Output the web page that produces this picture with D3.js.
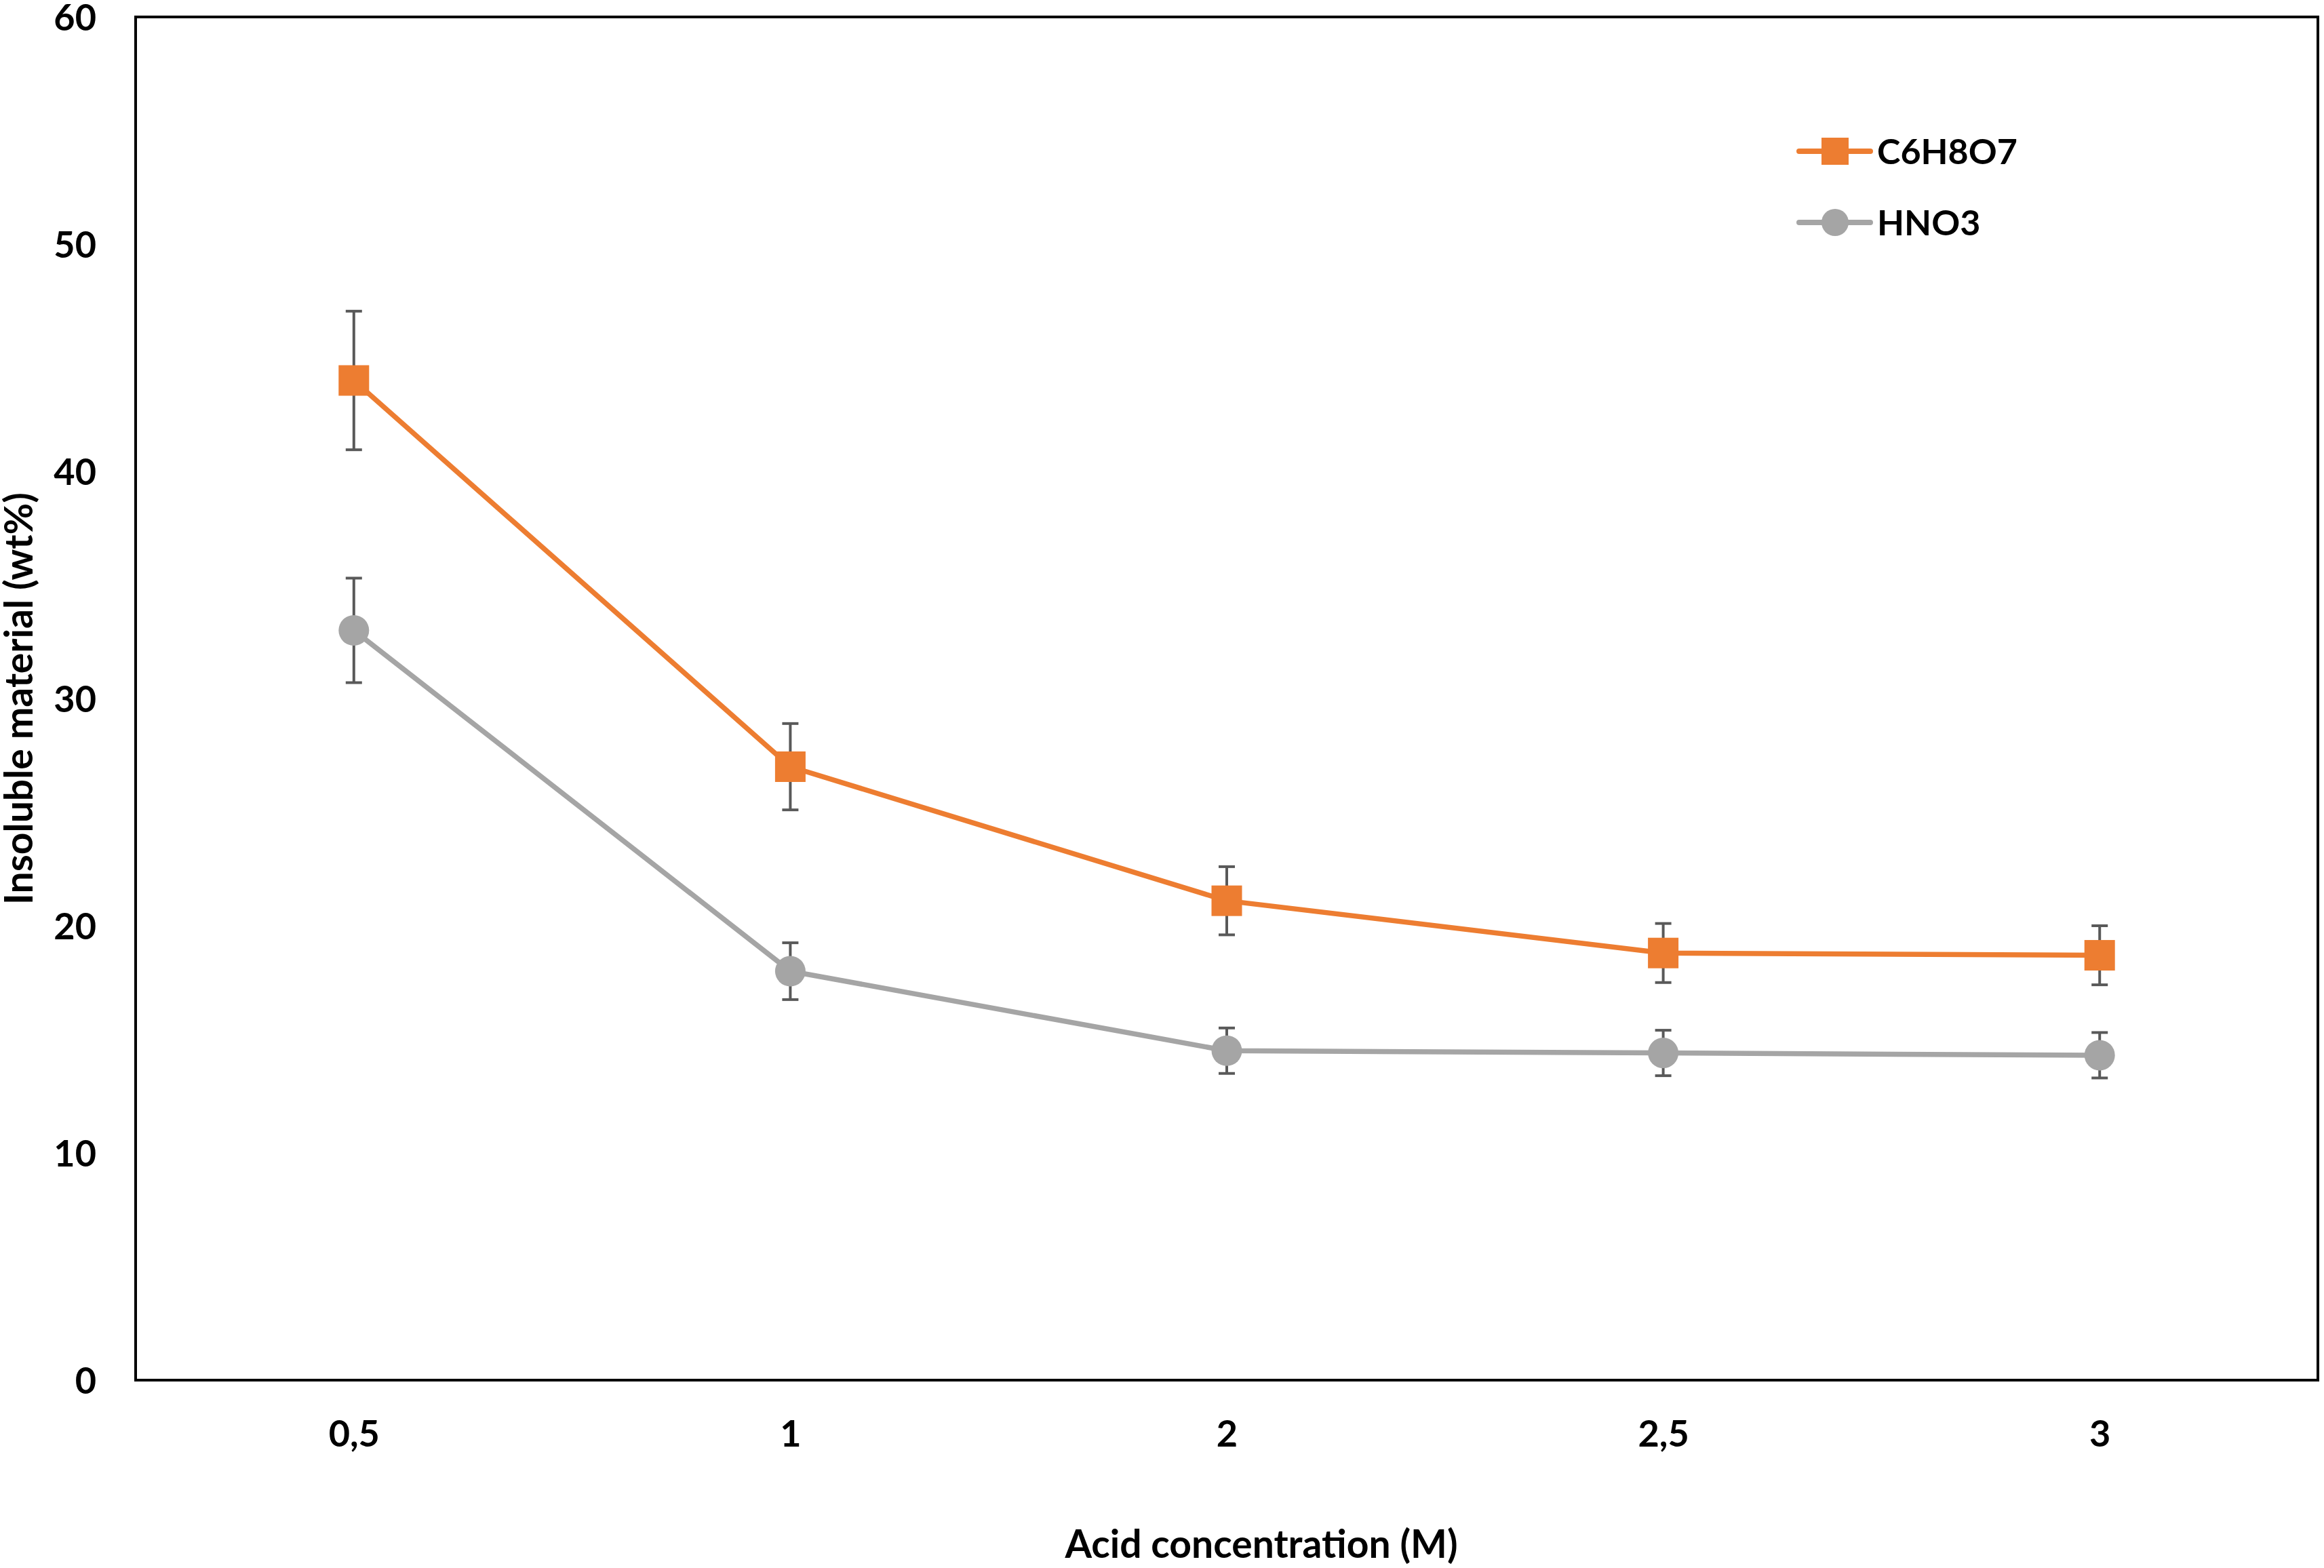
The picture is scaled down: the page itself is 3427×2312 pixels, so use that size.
<!DOCTYPE html>
<html lang="en">

  <head>
    <meta charset="UTF-8">
    <title>Insoluble material</title>
    <style>
      body {
        margin: 0;
        background-color: white;
      }

      text {
        font-family: Lato, "Open Sans", sans-serif;
        font-weight: bold;
        fill: black;
      }
    </style>
  </head>

  <body>
    <div id="my-div"></div>
    <script src="https://d3js.org/d3.v7.min.js"></script>
    <script>

      // data
      var categories = ["0,5", "1", "2", "2,5", "3"];
      var c6h8o7 = [44.0, 27.0, 21.1, 18.8, 18.7];
      var c6h8o7Err = [3.05, 1.9, 1.5, 1.3, 1.3];
      var hno3 = [33.0, 18.0, 14.5, 14.4, 14.3];
      var hno3Err = [2.3, 1.25, 1.0, 1.0, 1.0];
      var yTicks = [0, 10, 20, 30, 40, 50, 60];

      var series = [
        { name: "C6H8O7", values: c6h8o7, err: c6h8o7Err, color: "#ED7D31", shape: "square" },
        { name: "HNO3", values: hno3, err: hno3Err, color: "#A5A5A5", shape: "circle" }
      ];

      // set the dimensions and margins of the graph
      var margin = { top: 25, right: 9, bottom: 277, left: 200 },
        width = 3427 - margin.left - margin.right,
        height = 2312 - margin.top - margin.bottom;

      var svg = d3.select("#my-div")
        .append("svg")
        .attr("width", 3427)
        .attr("height", 2312)
        .append("g")
        .attr("transform", "translate(" + margin.left + "," + margin.top + ")");

      // scales
      var x = d3.scalePoint()
        .domain(categories)
        .range([0, width])
        .padding(0.5);

      var y = d3.scaleLinear()
        .domain([0, 60])
        .range([height, 0]);

      // axes
      var yAxis = svg.append("g")
        .call(d3.axisLeft(y).tickValues(yTicks).tickSize(0).tickPadding(58));
      yAxis.select(".domain").remove();
      yAxis.selectAll("text")
        .style("font-size", "54px")
        .attr("dy", "0.36em");

      var xAxis = svg.append("g")
        .attr("transform", "translate(0," + height + ")")
        .call(d3.axisBottom(x).tickSize(0).tickPadding(60));
      xAxis.select(".domain").remove();
      xAxis.selectAll("text")
        .style("font-size", "54px");

      // plot frame
      svg.append("rect")
        .attr("x", 0)
        .attr("y", 0)
        .attr("width", width)
        .attr("height", height)
        .attr("fill", "none")
        .attr("stroke", "black")
        .attr("stroke-width", 4);

      // axis titles
      svg.append("text")
        .attr("x", 1660)
        .attr("y", 2297 - margin.top)
        .style("text-anchor", "middle")
        .style("font-size", "57px")
        .text("Acid concentration (M)");

      svg.append("text")
        .attr("transform", "translate(" + (48 - margin.left) + "," + (1030 - margin.top) + ")rotate(-90)")
        .style("text-anchor", "middle")
        .style("font-size", "57px")
        .text("Insoluble material (wt%)");

      var line = d3.line()
        .x(function (d, i) { return x(categories[i]); })
        .y(function (d) { return y(d); });

      series.forEach(function (s) {
        var g = svg.append("g");

        // error bars
        var eb = g.selectAll(".err")
          .data(s.values)
          .enter()
          .append("g")
          .attr("stroke", "#595959")
          .attr("stroke-width", 4);
        eb.append("line")
          .attr("x1", function (d, i) { return x(categories[i]); })
          .attr("x2", function (d, i) { return x(categories[i]); })
          .attr("y1", function (d, i) { return y(d + s.err[i]); })
          .attr("y2", function (d, i) { return y(d - s.err[i]); });
        eb.append("line")
          .attr("x1", function (d, i) { return x(categories[i]) - 12; })
          .attr("x2", function (d, i) { return x(categories[i]) + 12; })
          .attr("y1", function (d, i) { return y(d + s.err[i]); })
          .attr("y2", function (d, i) { return y(d + s.err[i]); });
        eb.append("line")
          .attr("x1", function (d, i) { return x(categories[i]) - 12; })
          .attr("x2", function (d, i) { return x(categories[i]) + 12; })
          .attr("y1", function (d, i) { return y(d - s.err[i]); })
          .attr("y2", function (d, i) { return y(d - s.err[i]); });

        // line
        g.append("path")
          .datum(s.values)
          .attr("fill", "none")
          .attr("stroke", s.color)
          .attr("stroke-width", 7.5)
          .attr("stroke-linejoin", "round")
          .attr("d", line);

        // markers
        if (s.shape == "square") {
          g.selectAll(".mark")
            .data(s.values)
            .enter()
            .append("rect")
            .attr("x", function (d, i) { return x(categories[i]) - 22.5; })
            .attr("y", function (d) { return y(d) - 22.5; })
            .attr("width", 45)
            .attr("height", 45)
            .attr("fill", s.color);
        } else {
          g.selectAll(".mark")
            .data(s.values)
            .enter()
            .append("circle")
            .attr("cx", function (d, i) { return x(categories[i]); })
            .attr("cy", function (d) { return y(d); })
            .attr("r", 22.5)
            .attr("fill", s.color);
        }
      });

      // legend
      var legend = svg.append("g")
        .attr("transform", "translate(" + (2706 - margin.left) + "," + (223 - margin.top) + ")");

      series.forEach(function (s, i) {
        var row = legend.append("g")
          .attr("transform", "translate(0," + (i * 105) + ")");
        row.append("line")
          .attr("x1", -53)
          .attr("x2", 52)
          .attr("stroke", s.color)
          .attr("stroke-width", 8)
          .attr("stroke-linecap", "round");
        if (s.shape == "square") {
          row.append("rect")
            .attr("x", -20)
            .attr("y", -20)
            .attr("width", 40)
            .attr("height", 40)
            .attr("fill", s.color);
        } else {
          row.append("circle")
            .attr("r", 20)
            .attr("fill", s.color);
        }
        row.append("text")
          .attr("x", 62)
          .attr("y", 19)
          .style("font-size", "52px")
          .text(s.name);
      });

    </script>
  </body>

</html>
